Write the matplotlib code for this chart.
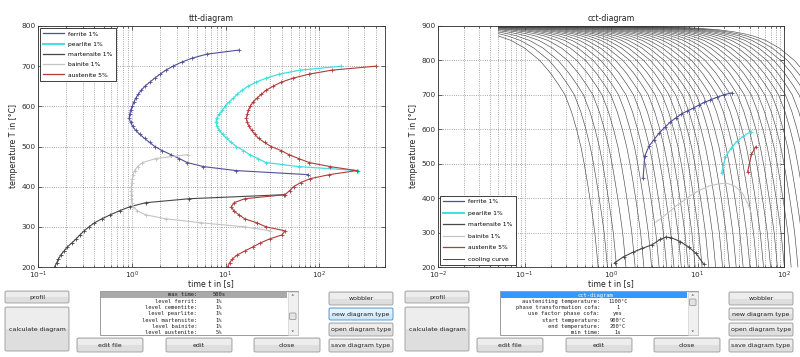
import matplotlib
matplotlib.use('Agg')
import matplotlib.pyplot as plt
from matplotlib.patches import Rectangle, FancyBboxPatch, Polygon
from matplotlib.lines import Line2D
import numpy as np

# ---------------- ttt-diagram data (time in s, temperature in degC) ----------------
ferrite_T = [740, 730, 720, 710, 700, 690, 680, 670, 660, 650, 640, 630, 620, 610, 600, 590,
             580, 570, 560, 550, 540, 530, 520, 510, 500, 490, 480, 470, 460, 450, 440, 430]
ferrite_t = [13.8, 6.3, 4.4, 3.4, 2.75, 2.3, 2.0, 1.75, 1.55, 1.38, 1.26, 1.17, 1.10, 1.05, 1.01, 0.97,
             0.95, 0.94, 0.97, 1.02, 1.10, 1.22, 1.37, 1.55, 1.76, 2.1, 2.6, 3.2, 3.9, 5.8, 13, 75]

pearlite_T = [700, 690, 680, 670, 660, 650, 640, 630, 620, 610, 600, 590, 580, 570,
              560, 550, 540, 530, 520, 510, 500, 490, 480, 470, 460, 450, 440]
pearlite_t = [170, 62, 37, 27, 21, 17.3, 15, 13.3, 12, 10.8, 9.9, 9.2, 8.5, 8.0,
              7.9, 8.1, 8.6, 9.3, 10.3, 11.5, 13, 15.5, 18, 22, 27, 60, 260]

martensite_T = [380, 370, 360, 350, 340, 330, 320, 310, 300, 290, 280, 270, 260, 250,
                240, 230, 220, 210, 200]
martensite_t = [42, 4.1, 1.4, 0.95, 0.74, 0.59, 0.48, 0.40, 0.35, 0.31, 0.28, 0.255, 0.23, 0.205,
                0.19, 0.175, 0.165, 0.158, 0.15]

bainite_T = [480, 470, 460, 450, 440, 430, 420, 410, 400, 390, 380, 370, 360, 350,
             340, 330, 320, 310, 300, 290]
bainite_t = [4.0, 1.8, 1.3, 1.15, 1.07, 1.03, 1.01, 1.0, 0.99, 0.99, 0.99, 0.99, 1.0, 1.04,
             1.14, 1.4, 2.3, 5.5, 16, 30]

austenite_T = [700, 690, 680, 670, 660, 650, 640, 630, 620, 610, 600, 590, 580, 570, 560, 550,
               540, 530, 520, 510, 500, 490, 480, 470, 460, 450, 440, 430, 420, 410, 400, 390,
               380, 370, 360, 350, 340, 330, 320, 310, 300, 290, 280, 270, 260, 250, 240, 230,
               220, 210, 200]
austenite_t = [400, 135, 77, 52, 39, 32, 27, 24, 21.5, 19.5, 18.3, 17.5, 17, 16.6, 17, 17.8,
               19, 20.5, 22.5, 26, 30.5, 39, 47, 60, 78, 130, 250, 128, 80, 63, 53, 48,
               43, 16, 12.3, 11.5, 12.2, 13.8, 16, 21.5, 27, 43, 40, 29.5, 23.5, 19.5, 16, 13.3,
               11.8, 11, 10.5]

# ---------------- cct-diagram data ----------------
# shape of the fastest cooling curve, the others are the same curve stretched in time
cool_base_t = [1e-5, 0.005, 0.01, 0.02, 0.03, 0.04, 0.05, 0.07, 0.10, 0.15, 0.20, 0.25, 0.294,
               0.35, 0.40, 0.45, 0.49, 0.53, 0.57, 0.61, 0.65, 0.68, 0.71]
cool_base_T = [900, 897, 894.5, 889, 883, 877, 871, 858, 836, 800, 763, 728, 700,
               650, 600, 548, 500, 450, 400, 350, 300, 250, 200]
# time at which each cooling curve reaches 200 degC
cool_t200 = [0.71, 0.91, 1.16, 1.49, 1.9, 2.4, 2.95, 3.6, 4.4, 5.35, 6.5, 7.8, 9.4, 11.3, 13.5,
             16.2, 19.5, 23.4, 28, 33.7, 40.4, 48.5, 58, 70, 84, 101, 121, 145, 174, 209, 251,
             301, 361, 434, 520, 625]
cool_start = 0.05

cct_ferrite_t = [25, 20, 16.8, 14, 12, 10.3, 8.9, 7.6, 6.5, 5.6, 4.8, 4.2, 3.6, 3.1, 2.75, 2.45, 2.35]
cct_ferrite_T = [706, 700, 693, 685, 678, 670, 661, 653, 644, 633, 620, 606, 589, 568, 551, 522, 458]
cct_pearlite_t = [19, 21, 24.5, 28.5, 34, 41]
cct_pearlite_T = [473, 520, 545, 565, 580, 593]
cct_martensite_t = [1.1, 1.4, 1.8, 2.3, 3.0, 3.7, 4.3, 5.0, 6.3, 7.9, 9.6, 11.8]
cct_martensite_T = [212, 230, 243, 254, 265, 280, 287, 285, 274, 258, 240, 208]
cct_bainite_t = [3.3, 4.2, 5.5, 7.5, 10, 13.5, 18, 22, 27, 33, 38, 42]
cct_bainite_T = [330, 350, 375, 400, 420, 435, 442, 443, 435, 415, 385, 355]
cct_austenite_t = [38, 42, 47]
cct_austenite_T = [477, 527, 549]

labels_ttt = ['ferrite 1%', 'pearlite 1%', 'martensite 1%', 'bainite 1%', 'austenite 5%']
labels_cct = labels_ttt + ['cooling curve']

list_left = [('max time:', '500s'), ('level ferrit:', '1%'), ('level cementite:', '1%'),
             ('level pearlite:', '1%'), ('level martensite:', '1%'), ('level bainite:', '1%'),
             ('level austenite:', '5%')]
list_right_title = 'cct-diagram'
list_right = [('austeniting temperature:', '1100°C'), ('phase transformation cofa:', '1'),
              ('use factor phase cofa:', 'yes'), ('start temperature:', '900°C'),
              ('end temperature:', '200°C'), ('min time:', '1s')]

c_fer = '#4f4f9c'
c_pea = '#3fe0e0'
c_mar = '#474747'
c_bai = '#c4c4c4'
c_aus = '#b23a3a'
c_cool = '#4a4a4a'

W, H = 800, 357
fig = plt.figure(figsize=(8, 3.57), dpi=100)


def style_axes(ax, title, x_left):
    ax.set_xscale('log')
    ax.grid(True, which='both', axis='x', ls=':', color='#8a8a8a', lw=0.6)
    ax.grid(True, which='major', axis='y', ls=':', color='#8a8a8a', lw=0.6)
    ax.tick_params(which='both', direction='in', top=True, right=True, labelsize=5.3,
                   colors='#303030', width=0.5, pad=1.6)
    ax.tick_params(which='major', length=3)
    ax.tick_params(which='minor', length=1.5)
    for s in ax.spines.values():
        s.set_linewidth(0.6)
        s.set_color('#303030')
    ax.set_title(title, fontsize=5.6, pad=3.5, color='#202020')
    # axis labels placed like in the gui
    fig.text((x_left + 173) / W, 1 - 284 / H, 'time t in [s]', ha='center', va='center',
             fontsize=5.6, color='#202020')
    fig.text((x_left - 24) / W, 1 - 146.5 / H, 'temperature T in [°C]', ha='center',
             va='center', rotation=90, fontsize=5.6, color='#202020')


def legend_handles(n_cool=False):
    h = [Line2D([], [], color=c_fer, lw=0.9),
         Line2D([], [], color=c_pea, lw=1.4),
         Line2D([], [], color=c_mar, lw=0.9),
         Line2D([], [], color=c_bai, lw=0.9),
         Line2D([], [], color=c_aus, lw=0.9)]
    if n_cool:
        h.append(Line2D([], [], color=c_cool, lw=0.7))
    return h


mk = dict(marker='+', ms=3.5, mew=0.6)

# ---------------- left: ttt ----------------
ax1 = fig.add_axes([38 / W, 1 - 267 / H, 347 / W, 241 / H])
ax1.plot(ferrite_t, ferrite_T, color=c_fer, lw=0.8, **mk)
ax1.plot(pearlite_t, pearlite_T, color=c_pea, lw=0.9, **mk)
ax1.plot(martensite_t, martensite_T, color=c_mar, lw=0.8, **mk)
ax1.plot(bainite_t, bainite_T, color=c_bai, lw=0.8, **mk)
ax1.plot(austenite_t, austenite_T, color=c_aus, lw=0.8, **mk)
ax1.set_xlim(0.1, 500)
ax1.set_ylim(200, 800)
style_axes(ax1, 'ttt-diagram', 38)
leg1 = ax1.legend(legend_handles(), labels_ttt, loc='upper left', fontsize=4.3,
                  frameon=True, fancybox=False, edgecolor='#202020', framealpha=1,
                  handlelength=3.4, handletextpad=0.7, labelspacing=0.85,
                  borderpad=0.55, borderaxespad=0.35)
leg1.get_frame().set_linewidth(0.6)

# ---------------- right: cct ----------------
ax2 = fig.add_axes([438 / W, 1 - 267 / H, 346 / W, 241 / H])
clip = Rectangle((cool_start, 100), 1e4, 900, transform=ax2.transData)
for t200 in cool_t200:
    scale = t200 / cool_base_t[-1]
    ln, = ax2.plot(np.array(cool_base_t) * scale, cool_base_T, color=c_cool, lw=0.45, zorder=2)
    ln.set_clip_path(clip)
ax2.plot(cct_bainite_t, cct_bainite_T, color=c_bai, lw=0.8, zorder=3)
ax2.plot(cct_ferrite_t, cct_ferrite_T, color=c_fer, lw=0.8, zorder=3, **mk)
ax2.plot(cct_pearlite_t, cct_pearlite_T, color=c_pea, lw=0.9, zorder=3, **mk)
ax2.plot(cct_martensite_t, cct_martensite_T, color=c_mar, lw=0.8, zorder=3, **mk)
ax2.plot(cct_austenite_t, cct_austenite_T, color=c_aus, lw=0.8, zorder=3, **mk)
ax2.set_xlim(0.01, 100)
ax2.set_ylim(200, 900)
style_axes(ax2, 'cct-diagram', 438)
leg2 = ax2.legend(legend_handles(True), labels_cct, loc='lower left', fontsize=4.3,
                  frameon=True, fancybox=False, edgecolor='#202020', framealpha=1,
                  handlelength=3.4, handletextpad=0.7, labelspacing=1.05,
                  borderpad=0.55, borderaxespad=0.35)
leg2.get_frame().set_linewidth(0.6)

# ---------------- gui controls below the plots (pixel coordinates) ----------------
ui = fig.add_axes([0, 0, 1, 1])
ui.set_xlim(0, W)
ui.set_ylim(H, 0)
ui.axis('off')
ui.patch.set_alpha(0)

FS_LIST = 3.9


def button(x0, y0, x1, y1, label, hl=False):
    fc = '#d3e8f8' if hl else '#dedede'
    fc2 = '#e6f2fb' if hl else '#ededed'
    ec = '#3d8bc9' if hl else '#9a9a9a'
    ui.add_patch(FancyBboxPatch((x0, y0), x1 - x0, y1 - y0,
                                boxstyle='round,pad=0,rounding_size=1.5',
                                fc=fc, ec=ec, lw=0.6))
    ui.add_patch(Rectangle((x0 + 0.8, y0 + 0.8), x1 - x0 - 1.6, (y1 - y0) / 2 - 0.8,
                           fc=fc2, ec='none'))
    ui.text((x0 + x1) / 2, (y0 + y1) / 2 + 0.3, label, ha='center', va='center',
            fontsize=4.5, color='#202020')


def listbox(x0, header_color, thumb_y):
    y0, y1 = 291, 335
    ui.add_patch(Rectangle((x0, y0), 198, y1 - y0, fc='white', ec='#8a8a8a', lw=0.6))
    ui.add_patch(Rectangle((x0 + 1, y0 + 1), 186, 6, fc=header_color, ec='none'))
    sx = x0 + 188
    ui.add_patch(Rectangle((sx, y0 + 0.5), 9.5, y1 - y0 - 1, fc='#f0f0f0', ec='#c8c8c8', lw=0.4))
    ui.add_patch(Polygon([[sx + 3.5, y0 + 4.5], [sx + 6, y0 + 4.5], [sx + 4.75, y0 + 3]],
                         closed=True, fc='#505050', ec='none'))
    ui.add_patch(Polygon([[sx + 3.5, y1 - 4.5], [sx + 6, y1 - 4.5], [sx + 4.75, y1 - 3]],
                         closed=True, fc='#505050', ec='none'))
    ui.add_patch(FancyBboxPatch((sx + 1.5, thumb_y), 6.5, 6.5,
                                boxstyle='round,pad=0,rounding_size=1',
                                fc='#e4e4e4', ec='#8f8f8f', lw=0.5))
    return Rectangle((x0, y0 + 0.5), 188, y1 - y0 - 1, transform=ui.transData)


def list_row(i, lab, val, label_x, value_x, box, color='#202020'):
    yc = 295 + i * 6.3
    for txt, x, ha in ((lab, label_x, 'right'), (val, value_x, 'center')):
        t = ui.text(x, yc, txt, ha=ha, va='center', fontsize=FS_LIST,
                    family='DejaVu Sans Mono', color=color)
        t.set_clip_path(box)


for off, hl in ((0, True), (400, False)):
    button(5 + off, 291, 69 + off, 303, 'profil')
    button(5 + off, 307, 69 + off, 351, 'calculate diagram')
    button(77 + off, 338, 143 + off, 352, 'edit file')
    button(166 + off, 338, 232 + off, 352, 'edit')
    button(254 + off, 338, 320 + off, 352, 'close')
    button(329 + off, 292, 393 + off, 305, 'wobbler')
    button(329 + off, 308, 393 + off, 320, 'new diagram type', hl=hl)
    button(329 + off, 323, 393 + off, 336, 'open diagram type')
    button(329 + off, 339, 393 + off, 352, 'save diagram type')

box_l = listbox(100, '#a9a9a9', 313)
for i, (lab, val) in enumerate(list_left):
    list_row(i, lab, val, 197, 219, box_l)

box_r = listbox(500, '#3399ff', 299)
t = ui.text(595, 295, list_right_title, ha='center', va='center', fontsize=FS_LIST,
            family='DejaVu Sans Mono', color='white')
for i, (lab, val) in enumerate(list_right):
    list_row(i + 1, lab, val, 600, 618, box_r)

fig.savefig('out.png', dpi=100, facecolor='white')
